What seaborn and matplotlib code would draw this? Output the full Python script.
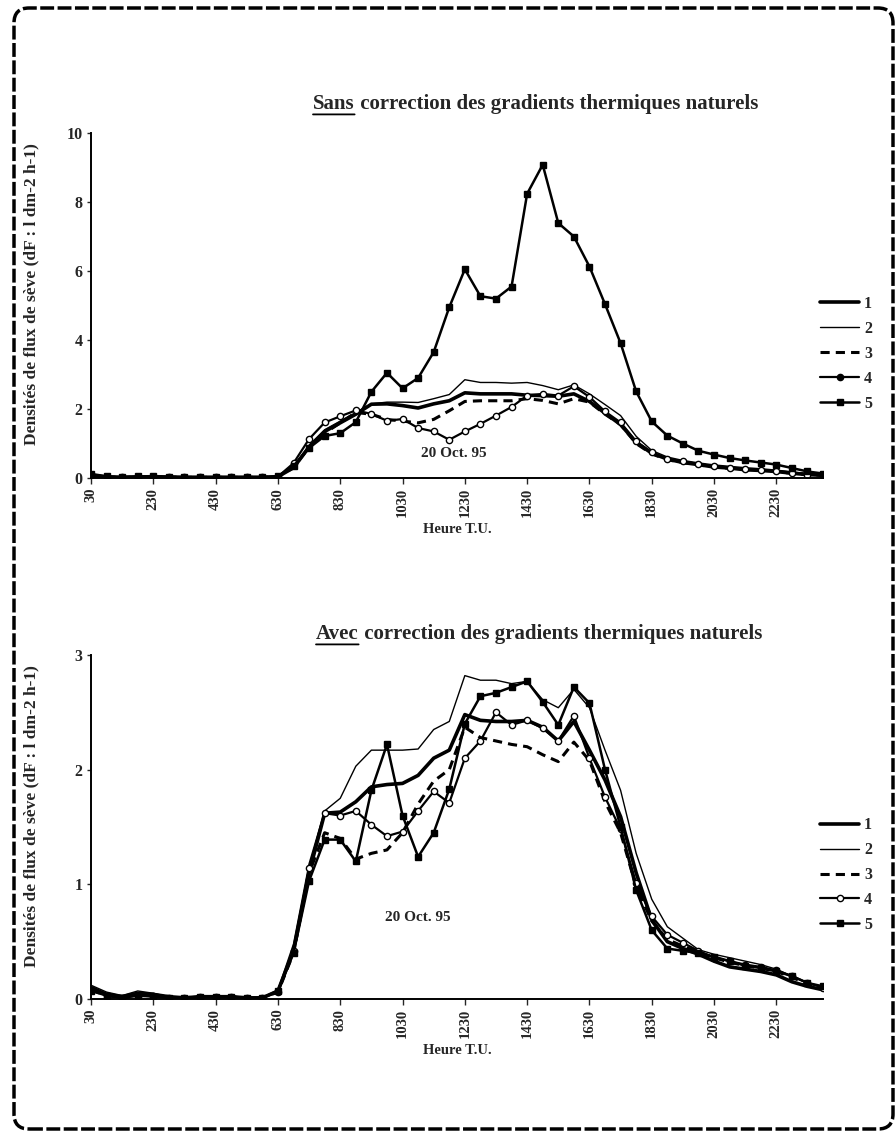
import numpy as np
import pandas as pd
import matplotlib
matplotlib.use("Agg")
import matplotlib.pyplot as plt
import seaborn as sns
from matplotlib.patches import FancyBboxPatch
from matplotlib.lines import Line2D

# ---------------- data ----------------
times = ["30", "100", "130", "200", "230", "300", "330", "400", "430", "500", "530", "600",
         "630", "700", "730", "800", "830", "900", "930", "1000", "1030", "1100", "1130", "1200",
         "1230", "1300", "1330", "1400", "1430", "1500", "1530", "1600", "1630", "1700", "1730", "1800",
         "1830", "1900", "1930", "2000", "2030", "2100", "2130", "2200", "2230", "2300", "2330", "2400"]
tick_labels = ["30", "230", "430", "630", "830", "1030", "1230", "1430", "1630", "1830", "2030", "2230"]
series_names = ["1", "2", "3", "4", "5"]

# Sans correction (top)
top_s1 = [0.08, 0.03, 0.02, 0.03, 0.04, 0.03, 0.02, 0.02, 0.02, 0.02, 0.02, 0.02, 0.04,
          0.30, 0.90, 1.35, 1.60, 1.85, 2.14, 2.15, 2.10, 2.03, 2.15, 2.24, 2.47, 2.44, 2.44, 2.44,
          2.40, 2.39, 2.37, 2.44, 2.22, 1.88, 1.55, 1.03, 0.72, 0.55, 0.45, 0.39, 0.32, 0.29, 0.24,
          0.22, 0.19, 0.14, 0.10, 0.08]
top_s2 = [0.09, 0.03, 0.02, 0.03, 0.04, 0.03, 0.02, 0.02, 0.02, 0.02, 0.02, 0.02, 0.05,
          0.32, 0.95, 1.40, 1.65, 1.90, 2.15, 2.20, 2.20, 2.19, 2.30, 2.42, 2.85, 2.77, 2.77, 2.75,
          2.77, 2.68, 2.56, 2.70, 2.44, 2.13, 1.81, 1.21, 0.80, 0.61, 0.51, 0.44, 0.38, 0.34, 0.30,
          0.27, 0.23, 0.18, 0.13, 0.10]
top_s3 = [0.08, 0.03, 0.02, 0.03, 0.04, 0.03, 0.02, 0.02, 0.02, 0.02, 0.02, 0.02, 0.04,
          0.30, 0.90, 1.30, 1.60, 1.90, 1.85, 1.70, 1.65, 1.60, 1.70, 1.95, 2.22, 2.24, 2.24, 2.24,
          2.30, 2.25, 2.15, 2.30, 2.20, 1.85, 1.55, 1.00, 0.70, 0.53, 0.45, 0.38, 0.32, 0.28, 0.24,
          0.22, 0.18, 0.14, 0.10, 0.08]
top_s4 = [0.10, 0.03, 0.02, 0.03, 0.04, 0.03, 0.02, 0.02, 0.02, 0.02, 0.02, 0.02, 0.04,
          0.43, 1.13, 1.61, 1.79, 1.96, 1.86, 1.66, 1.71, 1.45, 1.35, 1.11, 1.35, 1.57, 1.81, 2.06,
          2.39, 2.44, 2.39, 2.66, 2.35, 1.93, 1.61, 1.06, 0.75, 0.56, 0.48, 0.41, 0.34, 0.30, 0.26,
          0.24, 0.19, 0.14, 0.10, 0.10]
top_s5 = [0.12, 0.05, 0.03, 0.05, 0.05, 0.03, 0.03, 0.03, 0.03, 0.03, 0.03, 0.03, 0.05,
          0.35, 0.87, 1.22, 1.30, 1.62, 2.50, 3.05, 2.60, 2.90, 3.65, 4.95, 6.05, 5.27, 5.20, 5.55,
          8.24, 9.08, 7.39, 7.00, 6.13, 5.04, 3.91, 2.51, 1.64, 1.23, 1.00, 0.79, 0.68, 0.58, 0.51,
          0.45, 0.39, 0.29, 0.19, 0.13]

# Avec correction (bottom)
bot_s1 = [0.10, 0.04, 0.02, 0.05, 0.04, 0.02, 0.01, 0.02, 0.02, 0.02, 0.01, 0.01, 0.07,
          0.42, 1.10, 1.62, 1.63, 1.72, 1.85, 1.87, 1.88, 1.95, 2.10, 2.17, 2.48, 2.43, 2.42, 2.42,
          2.43, 2.37, 2.25, 2.42, 2.17, 1.91, 1.59, 1.10, 0.69, 0.50, 0.44, 0.39, 0.33, 0.28, 0.26,
          0.24, 0.21, 0.15, 0.11, 0.08]
bot_s2 = [0.12, 0.06, 0.03, 0.07, 0.05, 0.02, 0.01, 0.02, 0.02, 0.02, 0.01, 0.01, 0.08,
          0.48, 1.18, 1.64, 1.75, 2.03, 2.17, 2.17, 2.17, 2.18, 2.35, 2.42, 2.82, 2.78, 2.78, 2.75,
          2.77, 2.61, 2.54, 2.70, 2.54, 2.17, 1.82, 1.27, 0.87, 0.63, 0.53, 0.43, 0.39, 0.36, 0.33,
          0.30, 0.26, 0.20, 0.14, 0.10]
bot_s3 = [0.08, 0.03, 0.01, 0.03, 0.03, 0.01, 0.01, 0.02, 0.02, 0.02, 0.01, 0.01, 0.06,
          0.40, 1.10, 1.45, 1.40, 1.22, 1.27, 1.30, 1.45, 1.70, 1.90, 2.00, 2.37, 2.28, 2.25, 2.22,
          2.20, 2.13, 2.07, 2.24, 2.08, 1.72, 1.45, 0.98, 0.68, 0.52, 0.46, 0.41, 0.36, 0.32, 0.29,
          0.27, 0.24, 0.19, 0.13, 0.10]
bot_s4 = [0.08, 0.03, 0.01, 0.03, 0.03, 0.01, 0.01, 0.02, 0.02, 0.02, 0.01, 0.01, 0.06,
          0.42, 1.14, 1.62, 1.60, 1.64, 1.52, 1.42, 1.46, 1.64, 1.81, 1.71, 2.10, 2.25, 2.50, 2.39,
          2.43, 2.36, 2.25, 2.47, 2.10, 1.76, 1.48, 1.01, 0.72, 0.56, 0.49, 0.42, 0.36, 0.33, 0.30,
          0.28, 0.25, 0.20, 0.14, 0.10]
bot_s5 = [0.07, 0.03, 0.01, 0.03, 0.02, 0.01, 0.01, 0.02, 0.02, 0.02, 0.01, 0.01, 0.07,
          0.40, 1.03, 1.39, 1.39, 1.20, 1.82, 2.22, 1.60, 1.24, 1.45, 1.83, 2.40, 2.64, 2.67, 2.72,
          2.77, 2.59, 2.39, 2.72, 2.58, 2.00, 1.50, 0.95, 0.60, 0.44, 0.42, 0.40, 0.37, 0.33, 0.29,
          0.27, 0.24, 0.20, 0.14, 0.11]

top_title_u = "Sans"
bot_title_u = "Avec"
title_rest = " correction des gradients thermiques naturels"
ylabel = "Densités de flux de sève (dF : l dm-2 h-1)"
xlabel = "Heure T.U."
date_note = "20 Oct. 95"

# ---------------- style ----------------
sns.set_theme(style="ticks")
plt.rcParams['font.family'] = ['Liberation Serif', 'DejaVu Serif']
plt.rcParams['font.weight'] = 'bold'
plt.rcParams['axes.labelweight'] = 'bold'
plt.rcParams['axes.linewidth'] = 1.4
plt.rcParams['axes.edgecolor'] = 'black'

styles = {
    "1": dict(lw=2.6, ls='-', marker=None),
    "2": dict(lw=1.0, ls='-', marker=None),
    "3": dict(lw=2.2, ls=(0, (3, 2)), marker=None),
    "4": dict(lw=1.6, ls='-', marker='o', mfc='white', ms=4.5),
    "5": dict(lw=1.8, ls='-', marker='s', mfc='black', ms=5),
}

fig = plt.figure(figsize=(8.96, 11.32), dpi=100)
fig.patch.set_facecolor('white')
ax1 = fig.add_axes([0.1016, 0.5777, 0.817, 0.3048])
ax2 = fig.add_axes([0.1016, 0.1175, 0.817, 0.3039])

idx = np.arange(len(times))


def draw_panel(ax, data, ymax, yticks, note_xy, legend_marker_open):
    df = pd.DataFrame({"idx": np.tile(idx, len(series_names)),
                       "value": np.concatenate(data),
                       "series": np.repeat(series_names, len(idx))})
    for name in series_names:
        st = styles[name]
        sub = df[df["series"] == name]
        kw = dict(color='black', linewidth=st['lw'], linestyle=st['ls'])
        if st['marker']:
            kw.update(marker=st['marker'], markerfacecolor=st['mfc'],
                      markeredgecolor='black', markeredgewidth=1.0, markersize=st['ms'])
        sns.lineplot(data=sub, x="idx", y="value", ax=ax, legend=False, **kw)
    ax.set_xlim(0, len(times) - 1)
    ax.set_ylim(0, ymax)
    ax.set_yticks(yticks)
    ax.set_yticklabels([str(v) for v in yticks], fontsize=11.5, fontweight='bold')
    ax.set_xticks([times.index(t) for t in tick_labels])
    ax.set_xticklabels(tick_labels, rotation=90, fontsize=10.5, fontweight='bold')
    ax.tick_params(axis='x', length=4, width=1, pad=3)
    ax.tick_params(axis='y', length=3, width=1, pad=3)
    sns.despine(ax=ax)
    ax.set_ylabel(ylabel, fontsize=12.5, fontweight='bold')
    ax.yaxis.set_label_coords(-0.07, 0.532)
    ax.set_xlabel(xlabel, fontsize=10.5, fontweight='bold')
    ax.xaxis.set_label_coords(0.5, -0.13)
    ax.text(note_xy[0], note_xy[1], date_note, fontsize=11, fontweight='bold',
            ha='center', va='center')
    handles = []
    for name in series_names:
        st = styles[name]
        h = Line2D([], [], color='black', lw=st['lw'], ls=st['ls'])
        if name == "4":
            h.set_marker('o')
            h.set_markersize(4.5)
            h.set_markerfacecolor('white' if legend_marker_open else 'black')
            h.set_markeredgecolor('black')
        if name == "5":
            h.set_marker('s')
            h.set_markersize(5)
            h.set_markerfacecolor('black')
            h.set_markeredgecolor('black')
        handles.append(h)
    ax.legend(handles, series_names, loc='center left', bbox_to_anchor=(0.996, 0.36),
              frameon=False, borderaxespad=0, borderpad=0, handlelength=2.45,
              handletextpad=0.3, labelspacing=0.56,
              prop={'weight': 'bold', 'size': 11.5})


draw_panel(ax1, [top_s1, top_s2, top_s3, top_s4, top_s5], 10, [0, 2, 4, 6, 8, 10],
           (23.3, 0.72), False)
draw_panel(ax2, [bot_s1, bot_s2, bot_s3, bot_s4, bot_s5], 3, [0, 1, 2, 3],
           (21.0, 0.71), True)


def underlined_title(x0, y, first, rest):
    t1 = fig.text(x0, y, first, fontsize=15, fontweight='bold', ha='left', va='baseline')
    fig.add_artist(matplotlib.text.Annotation(rest, xy=(1, 0), xycoords=t1,
                                              fontsize=15, fontweight='bold',
                                              ha='left', va='bottom'))
    fig.add_artist(matplotlib.text.Annotation("", xy=(0, -0.02), xycoords=t1,
                                              xytext=(1, -0.02), textcoords=t1,
                                              arrowprops=dict(arrowstyle='-', lw=1.3,
                                                              color='black',
                                                              shrinkA=0, shrinkB=0)))


underlined_title(313 / 896, 1 - 109 / 1132, top_title_u, title_rest)
underlined_title(316 / 896, 1 - 639 / 1132, bot_title_u, title_rest)

# dashed rounded border
border = FancyBboxPatch((0.14, 0.03), 8.79, 11.21,
                        boxstyle="round,pad=0,rounding_size=0.15",
                        transform=fig.dpi_scale_trans, fill=False,
                        edgecolor='black', linewidth=2.5, linestyle=(0, (4, 1)))
fig.add_artist(border)

fig.savefig("out.png", dpi=100, facecolor='white')
